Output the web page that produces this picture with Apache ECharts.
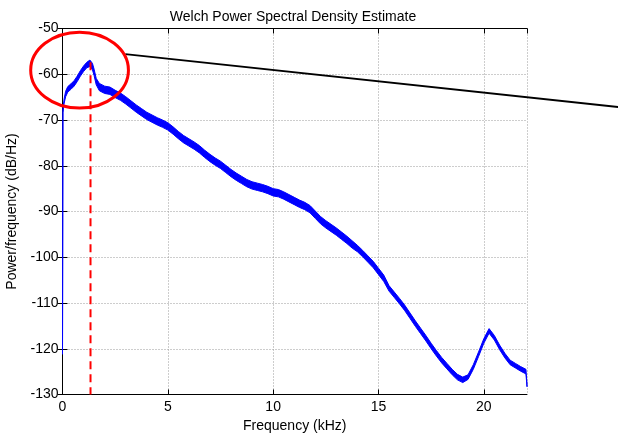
<!DOCTYPE html>
<html><head><meta charset="utf-8">
<script src="https://cdn.jsdelivr.net/npm/echarts@6/dist/echarts.min.js"></script>
<style>html,body{margin:0;padding:0;background:#fff}#c{width:618px;height:438px}</style>
</head><body><div id="c"></div>
<script>
// ---- data ----
const freqKHz = [0, 0.02, 0.08, 0.15, 0.25, 0.4, 0.55, 0.7, 0.85, 1.0, 1.15, 1.3, 1.42, 1.5, 1.6, 1.75, 2.0, 2.25, 2.5, 2.75,
  3.0, 3.25, 3.5, 3.75, 4.0, 4.25, 4.5, 4.75, 5.0, 5.25, 5.5, 5.75, 6.0, 6.25, 6.5, 6.75, 7.0, 7.25, 7.5, 7.75,
  8.0, 8.25, 8.5, 8.75, 9.0, 9.25, 9.5, 9.75, 10.0, 10.25, 10.5, 10.75, 11.0, 11.25, 11.5, 11.75,
  12.0, 12.25, 12.5, 12.75, 13.0, 13.25, 13.5, 13.75, 14.0, 14.25, 14.5, 14.75, 15.0, 15.25, 15.5, 15.75,
  16.0, 16.25, 16.5, 16.75, 17.0, 17.25, 17.5, 17.75, 18.0, 18.25, 18.5, 18.75, 19.0, 19.25, 19.5, 19.75,
  20.0, 20.25, 20.5, 20.75, 21.0, 21.25, 21.5, 21.75, 22.0, 22.05];
const psdDb = [-121, -68, -65.8, -64.3, -63.3, -62.7, -62.0, -61.0, -59.8, -58.8, -58.0, -57.6, -58.3, -59.6, -61.6, -62.8, -63.4, -63.6, -64.3, -64.9,
  -65.7, -66.6, -67.5, -68.3, -69.1, -69.7, -70.3, -70.8, -71.4, -72.3, -73.3, -74.2, -74.9, -75.6, -76.4, -77.4, -78.3, -79.1, -79.8, -80.7,
  -81.6, -82.4, -83.1, -83.8, -84.3, -84.6, -84.9, -85.3, -85.8, -86.0, -86.5, -87.1, -87.7, -88.3, -88.8, -89.5,
  -90.7, -91.9, -92.8, -93.6, -94.4, -95.3, -96.2, -97.2, -98.1, -99.2, -100.4, -101.6, -103.1, -104.6, -106.8, -108.2,
  -109.6, -111.1, -112.8, -114.5, -116.1, -117.7, -119.4, -121.0, -122.5, -123.8, -125.1, -126.2, -126.8, -126.2, -124.0, -121.2,
  -118.3, -116.1, -117.6, -119.7, -121.5, -123.0, -123.7, -124.4, -125.0, -128.0];
// half-width of the noisy trace (dB)
const noiseDb = [0.2, 0.4, 0.5, 0.6, 0.6, 0.6, 0.6, 0.6, 0.6, 0.6, 0.6, 0.7, 0.7, 0.7, 0.7, 0.8, 0.8, 0.8, 0.8, 0.8,
  0.8, 0.8, 0.8, 0.8, 0.8, 0.8, 0.8, 0.8, 0.8, 0.8, 0.8, 0.8, 0.8, 0.8, 0.8, 0.8, 0.8, 0.8, 0.8, 0.8,
  0.8, 0.8, 0.8, 0.8, 0.8, 0.8, 0.8, 0.8, 0.8, 0.8, 0.8, 0.8, 0.8, 0.8, 0.8, 0.8,
  0.8, 0.8, 0.8, 0.8, 0.8, 0.8, 0.8, 0.8, 0.7, 0.7, 0.7, 0.7, 0.7, 0.7, 0.6, 0.6,
  0.6, 0.6, 0.6, 0.6, 0.6, 0.6, 0.6, 0.6, 0.6, 0.6, 0.6, 0.6, 0.6, 0.5, 0.5, 0.5,
  0.5, 0.5, 0.5, 0.5, 0.5, 0.5, 0.5, 0.5, 0.5, 0.3];
const xTickLabels = [0, 5, 10, 15, 20];
const yTickLabels = [-130, -120, -110, -100, -90, -80, -70, -60, -50];
const freqMax = 22.05;
// annotations (data units)
const peakMarker = [[1.33, -57.4], [1.33, -130]];
const pointerLine = [[2.98, -55.6], [26.45, -67.2]];
const circleCenter = [0.81, -59.1];
const circleRadius = [2.32, 8.3];

const titleText = 'Welch Power Spectral Density Estimate';
const xName = 'Frequency (kHz)';
const yName = 'Power/frequency (dB/Hz)';

// ---- chart ----
const FONT = 'Liberation Sans, Arial, sans-serif';
const FS = 14;
const BLUE = '#0000ff';
const bandData = freqKHz.map((f, i) => [f, psdDb[i] - noiseDb[i], psdDb[i] + noiseDb[i]]);

const chart = echarts.init(document.getElementById('c'), null, {renderer: 'canvas'});
const mirrorAxis = {
  axisLine: {show: true, lineStyle: {color: '#000', width: 1}},
  axisTick: {show: true, inside: true, length: 5, lineStyle: {color: '#000'}},
  axisLabel: {show: false}, splitLine: {show: false}
};
const gridLine = {show: true, lineStyle: {color: '#9a9a9a', type: [1, 2], width: 1}};
chart.setOption({
  animation: false,
  backgroundColor: '#fff',
  title: {text: titleText, left: 288, textAlign: 'center', top: 5,
    textStyle: {fontFamily: FONT, fontSize: FS, fontWeight: 'normal', color: '#000'}},
  grid: {left: 62.5, right: 91, top: 28.5, bottom: 43.5, outerBoundsMode: 'none', containLabel: false},
  xAxis: [{
    type: 'value', min: xTickLabels[0], max: freqMax, interval: xTickLabels[1] - xTickLabels[0],
    name: xName, nameLocation: 'middle', nameGap: 24,
    nameTextStyle: {fontFamily: FONT, fontSize: FS, color: '#000'},
    axisLine: {show: true, onZero: false, lineStyle: {color: '#000', width: 1}},
    axisTick: {show: true, inside: true, length: 5, lineStyle: {color: '#000'}},
    axisLabel: {fontFamily: FONT, fontSize: FS, color: '#000', margin: 6, showMaxLabel: false},
    splitLine: gridLine
  }, Object.assign({type: 'value', position: 'top', min: xTickLabels[0], max: freqMax,
    interval: xTickLabels[1] - xTickLabels[0]}, mirrorAxis)],
  yAxis: [{
    type: 'value', min: yTickLabels[0], max: yTickLabels[yTickLabels.length - 1], interval: 10,
    name: yName, nameLocation: 'middle', nameGap: 31,
    nameTextStyle: {fontFamily: FONT, fontSize: FS, color: '#000'},
    axisLine: {show: true, onZero: false, lineStyle: {color: '#000', width: 1}},
    axisTick: {show: true, inside: true, length: 5, lineStyle: {color: '#000'}},
    axisLabel: {fontFamily: FONT, fontSize: FS, color: '#000', margin: 4},
    splitLine: gridLine
  }, Object.assign({type: 'value', position: 'right', min: yTickLabels[0],
    max: yTickLabels[yTickLabels.length - 1], interval: 10}, mirrorAxis)],
  series: [
    {type: 'custom', data: bandData, z: 3, silent: true,
     encode: {x: 0, y: [1, 2]},
     renderItem: function (params, api) {
       if (params.dataIndexInside !== 0) return null;
       const n = params.dataInsideLength;
       const top = [], bot = [];
       for (let i = 0; i < n; i++) {
         const x = api.value(0, i);
         top.push(api.coord([x, api.value(2, i)]));
         bot.push(api.coord([x, api.value(1, i)]));
       }
       return {type: 'polygon', shape: {points: top.concat(bot.reverse())},
               style: {fill: BLUE, stroke: BLUE, lineWidth: 1}};
     }},
    {type: 'line', data: peakMarker, showSymbol: false, z: 4,
     lineStyle: {color: '#ff0000', width: 2, type: [8, 5]}}
  ]
});
const c = chart.convertToPixel({gridIndex: 0}, circleCenter);
const e = chart.convertToPixel({gridIndex: 0}, [circleCenter[0] + circleRadius[0], circleCenter[1] + circleRadius[1]]);
const p1 = chart.convertToPixel({gridIndex: 0}, pointerLine[0]);
const p2 = chart.convertToPixel({gridIndex: 0}, pointerLine[1]);
chart.setOption({
  graphic: [
    {type: 'line', z: 100, shape: {x1: p1[0], y1: p1[1], x2: p2[0], y2: p2[1]},
     style: {stroke: '#000', lineWidth: 2}},
    {type: 'ellipse', z: 100,
     shape: {cx: c[0], cy: c[1], rx: Math.abs(e[0] - c[0]), ry: Math.abs(e[1] - c[1])},
     style: {fill: null, stroke: '#ff0000', lineWidth: 3}}]
});
</script></body></html>
